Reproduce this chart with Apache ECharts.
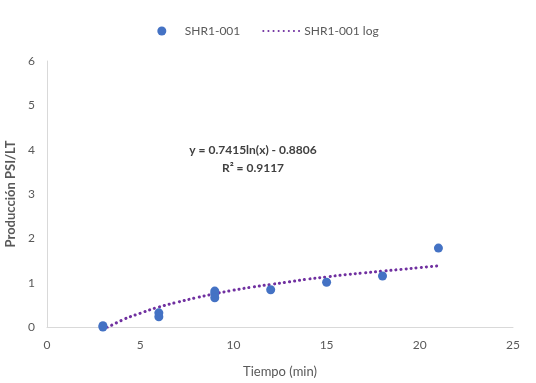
<!DOCTYPE html>
<html><head><meta charset="utf-8">
<script src="https://cdn.jsdelivr.net/npm/echarts@6/dist/echarts.min.js"></script>
<style>html,body{margin:0;padding:0;background:#fff}#c{width:536px;height:383px}</style>
</head><body><div id="c"></div>
<script>
// Observed points (x = Tiempo min, y = Producción PSI/LT)
const obsX = [3, 3, 6, 6, 9, 9, 9, 12, 15, 18, 21];
const obsY = [0.03, 0.0, 0.32, 0.23, 0.81, 0.75, 0.66, 0.84, 1.01, 1.15, 1.78];
// Log trendline values
const trendX = [3, 4, 5, 6, 7, 8, 9, 10, 11, 12, 13, 14, 15, 16, 17, 18, 19, 20, 21];
const trendY = [-0.07, 0.15, 0.31, 0.45, 0.56, 0.66, 0.75, 0.83, 0.90, 0.96, 1.02, 1.08, 1.13, 1.18, 1.22, 1.26, 1.30, 1.34, 1.38];
const xTicks = [0, 5, 10, 15, 20, 25];
const yTicks = [0, 1, 2, 3, 4, 5, 6];
const seriesNames = ['SHR1-001', 'SHR1-001 log'];
const eqLines = ['y = 0.7415ln(x) - 0.8806', 'R² = 0.9117'];

const font = 'Lato, "Open Sans", sans-serif';
const chart = echarts.init(document.getElementById('c'), null, {renderer: 'canvas'});
chart.setOption({
  animation: false,
  textStyle: {fontFamily: font},
  grid: {left: 47, right: 23, top: 61, bottom: 56, containLabel: false, outerBoundsMode: 'none'},
  legend: {
    top: 20, left: 'center', itemGap: 22,
    textStyle: {color: '#595959', fontSize: 12, fontFamily: font},
    data: [
      {name: seriesNames[0], icon: 'circle', itemStyle: {color: '#4472C4'}},
      {name: seriesNames[1], itemStyle: {opacity: 0}}
    ],
    itemWidth: 36, itemHeight: 9
  },
  xAxis: {
    type: 'value', min: xTicks[0], max: xTicks[xTicks.length - 1], interval: 5,
    axisLine: {show: true, lineStyle: {color: '#d9d9d9', width: 1}},
    axisTick: {show: false}, splitLine: {show: false},
    axisLabel: {color: '#595959', fontSize: 12, margin: 12, fontFamily: font},
    name: 'Tiempo (min)', nameLocation: 'middle', nameGap: 38,
    nameTextStyle: {color: '#595959', fontSize: 13, fontFamily: font}
  },
  yAxis: {
    type: 'value', min: yTicks[0], max: yTicks[yTicks.length - 1], interval: 1,
    axisLine: {show: true, lineStyle: {color: '#d9d9d9', width: 1}},
    axisTick: {show: false}, splitLine: {show: false},
    axisLabel: {color: '#595959', fontSize: 12, margin: 12, fontFamily: font},
    name: 'Producción PSI/LT', nameLocation: 'middle', nameGap: 26, nameRotate: 90,
    nameTextStyle: {color: '#595959', fontSize: 13, fontWeight: 'bold', fontFamily: font}
  },
  series: [
    {
      name: seriesNames[0], type: 'scatter', symbol: 'circle', symbolSize: 9,
      itemStyle: {color: '#4472C4', opacity: 1}, z: 3,
      data: obsX.map((x, i) => [x, obsY[i]])
    },
    {
      name: seriesNames[1], type: 'line', smooth: true, symbol: 'none', clip: true,
      lineStyle: {color: '#7030A0', width: 3, type: [0.1, 5], cap: 'round'},
      itemStyle: {color: '#7030A0'}, z: 2,
      data: trendX.map((x, i) => [x, trendY[i]])
    }
  ],
  graphic: [{
    type: 'text', x: 253, y: 141,
    style: {
      text: eqLines.join('\n'), fill: '#404040', fontSize: 12, fontWeight: 'bold',
      fontFamily: font, align: 'center', lineHeight: 18
    }
  }]
});
</script></body></html>
